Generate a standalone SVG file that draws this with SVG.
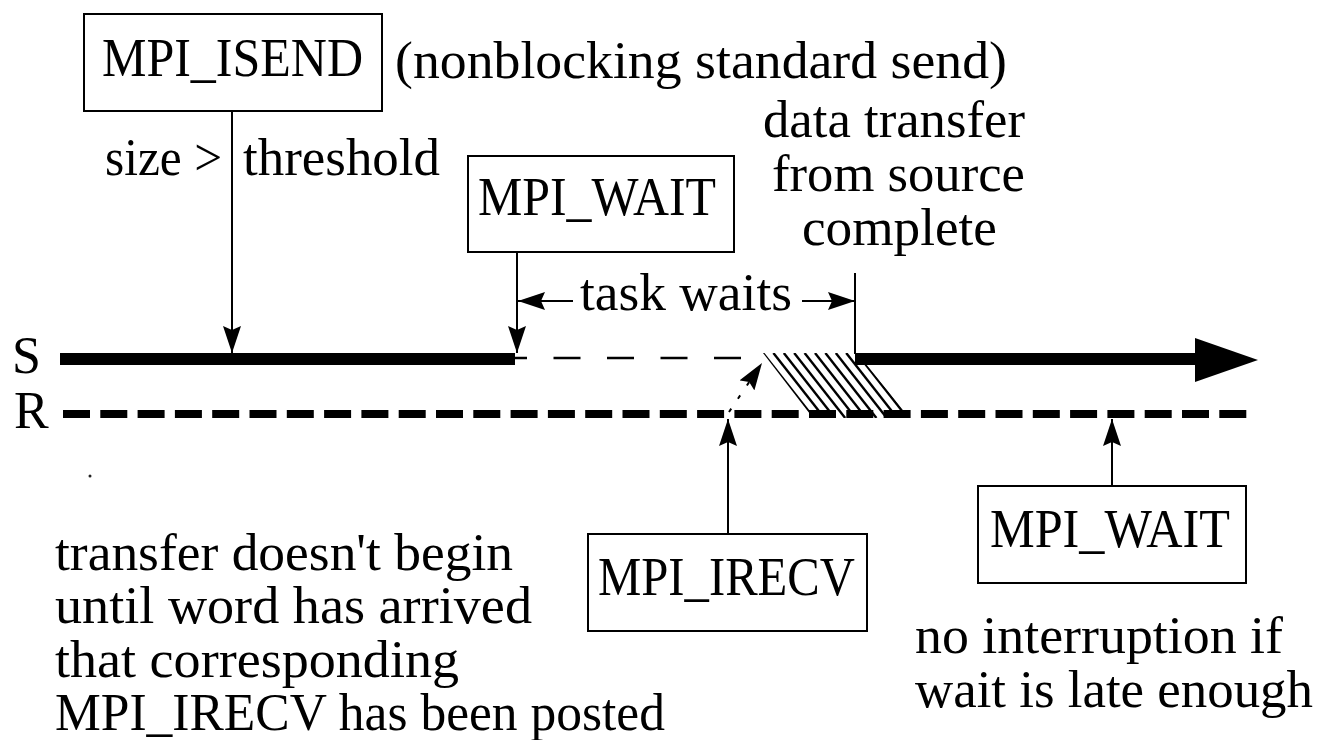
<svg xmlns="http://www.w3.org/2000/svg" width="1320" height="740" viewBox="0 0 1320 740">
  <defs>
    <style>
      .box { fill: #fff; stroke: #000; stroke-width: 2; }
      .lbl { font-family: "Liberation Serif", "Times New Roman", serif; font-size: 54px; fill: #000; }
      .txt { font-family: "Liberation Serif", "Times New Roman", serif; font-size: 52px; fill: #000; }
      .wire { stroke: #000; stroke-width: 2; fill: none; }
      .hatch { stroke: #000; stroke-width: 2.4; }
    </style>
    <!-- filled arrowhead for the thin connectors -->
    <marker id="head" viewBox="0 0 27 18" refX="27" refY="9" markerWidth="27" markerHeight="18"
            orient="auto" markerUnits="userSpaceOnUse">
      <path d="M0,0 L27,9 L0,18 L4,9 z" fill="#000"/>
    </marker>
    <clipPath id="hatchClip">
      <polygon points="763,353 857,353 910,418 813,418"/>
    </clipPath>
  </defs>

  <rect width="1320" height="740" fill="#fff"/>

  <!-- process timelines: S (sender) and R (receiver) -->
  <g id="timelines">
    <text class="txt" x="12" y="373" font-size="50">S</text>
    <text class="txt" x="14" y="428" font-size="50">R</text>
    <!-- sender busy -->
    <line x1="60" y1="359" x2="515" y2="359" stroke="#000" stroke-width="12"/>
    <!-- sender blocked in wait -->
    <line x1="515" y1="358" x2="742" y2="358" stroke="#000" stroke-width="2.4"
          stroke-dasharray="27 26.5" stroke-dashoffset="15"/>
    <!-- sender resumes -->
    <line x1="855" y1="359" x2="1200" y2="359" stroke="#000" stroke-width="12"/>
    <polygon points="1195,338 1258,360 1195,382" fill="#000"/>
    <!-- receiver -->
    <line x1="63" y1="414" x2="1247" y2="414" stroke="#000" stroke-width="8" stroke-dasharray="27 10.3"/>
    <!-- data transfer band -->
    <g id="transfer" clip-path="url(#hatchClip)">
      <line class="hatch" x1="763" y1="353" x2="814" y2="418"/>
      <line class="hatch" x1="773.4" y1="353" x2="824.4" y2="418"/>
      <line class="hatch" x1="783.8" y1="353" x2="834.8" y2="418"/>
      <line class="hatch" x1="794.2" y1="353" x2="845.2" y2="418"/>
      <line class="hatch" x1="804.6" y1="353" x2="855.6" y2="418"/>
      <line class="hatch" x1="815" y1="353" x2="866" y2="418"/>
      <line class="hatch" x1="825.4" y1="353" x2="876.4" y2="418"/>
      <line class="hatch" x1="835.8" y1="353" x2="886.8" y2="418"/>
      <line class="hatch" x1="846.2" y1="353" x2="897.2" y2="418"/>
      <line class="hatch" x1="856.6" y1="353" x2="907.6" y2="418"/>
    </g>
    <circle cx="90" cy="476" r="1.5" fill="#222"/>
  </g>

  <!-- calls -->
  <g id="isend">
    <rect class="box" x="84" y="14" width="298" height="97"/>
    <text class="lbl" x="102" y="76" textLength="261" lengthAdjust="spacingAndGlyphs">MPI_ISEND</text>
  </g>
  <g id="isend-note">
    <text class="txt" x="395" y="78" textLength="612" lengthAdjust="spacingAndGlyphs">(nonblocking standard send)</text>
    <text class="txt" x="105" y="175" textLength="117" lengthAdjust="spacingAndGlyphs">size &gt;</text>
    <text class="txt" x="243" y="175" textLength="197" lengthAdjust="spacingAndGlyphs">threshold</text>
  </g>

  <g id="wait-send">
    <rect class="box" x="468" y="156" width="266" height="96"/>
    <text class="lbl" x="478" y="215" textLength="238" lengthAdjust="spacingAndGlyphs">MPI_WAIT</text>
  </g>

  <g id="transfer-note">
    <text class="txt" x="763" y="137" textLength="262" lengthAdjust="spacingAndGlyphs">data transfer</text>
    <text class="txt" x="772" y="191" textLength="253" lengthAdjust="spacingAndGlyphs">from source</text>
    <text class="txt" x="802" y="245" textLength="195" lengthAdjust="spacingAndGlyphs">complete</text>
  </g>

  <g id="wait-span">
    <text class="txt" x="580" y="310" textLength="212" lengthAdjust="spacingAndGlyphs">task waits</text>
  </g>

  <g id="irecv">
    <rect class="box" x="588" y="534" width="279" height="97"/>
    <text class="lbl" x="598" y="595" textLength="257" lengthAdjust="spacingAndGlyphs">MPI_IRECV</text>
  </g>

  <g id="wait-recv">
    <rect class="box" x="978" y="486" width="268" height="97"/>
    <text class="lbl" x="990" y="547" textLength="240" lengthAdjust="spacingAndGlyphs">MPI_WAIT</text>
  </g>

  <g id="recv-note">
    <text class="txt" x="55" y="570" textLength="458" lengthAdjust="spacingAndGlyphs">transfer doesn't begin</text>
    <text class="txt" x="55" y="623" textLength="477" lengthAdjust="spacingAndGlyphs">until word has arrived</text>
    <text class="txt" x="55" y="677" textLength="404" lengthAdjust="spacingAndGlyphs">that corresponding</text>
    <text class="txt" x="55" y="730" textLength="610" lengthAdjust="spacingAndGlyphs">MPI_IRECV has been posted</text>
  </g>

  <g id="wait-note">
    <text class="txt" x="915" y="653" textLength="368" lengthAdjust="spacingAndGlyphs">no interruption if</text>
    <text class="txt" x="915" y="707" textLength="398" lengthAdjust="spacingAndGlyphs">wait is late enough</text>
  </g>

  <!-- connectors -->
  <g id="connectors">
    <line class="wire" x1="232" y1="111" x2="232" y2="353" marker-end="url(#head)"/>
    <line class="wire" x1="517" y1="252" x2="517" y2="353" marker-end="url(#head)"/>
    <line class="wire" x1="573" y1="301" x2="518" y2="301" marker-end="url(#head)"/>
    <line class="wire" x1="802" y1="301" x2="855" y2="301" marker-end="url(#head)"/>
    <line class="wire" x1="855" y1="273" x2="855" y2="354"/>
    <line class="wire" x1="728" y1="534" x2="728" y2="419" marker-end="url(#head)"/>
    <line class="wire" x1="1112" y1="485" x2="1112" y2="419" marker-end="url(#head)"/>
    <line class="wire" x1="729" y1="412" x2="762" y2="363" stroke-dasharray="4 12" marker-end="url(#head)"/>
  </g>
</svg>
